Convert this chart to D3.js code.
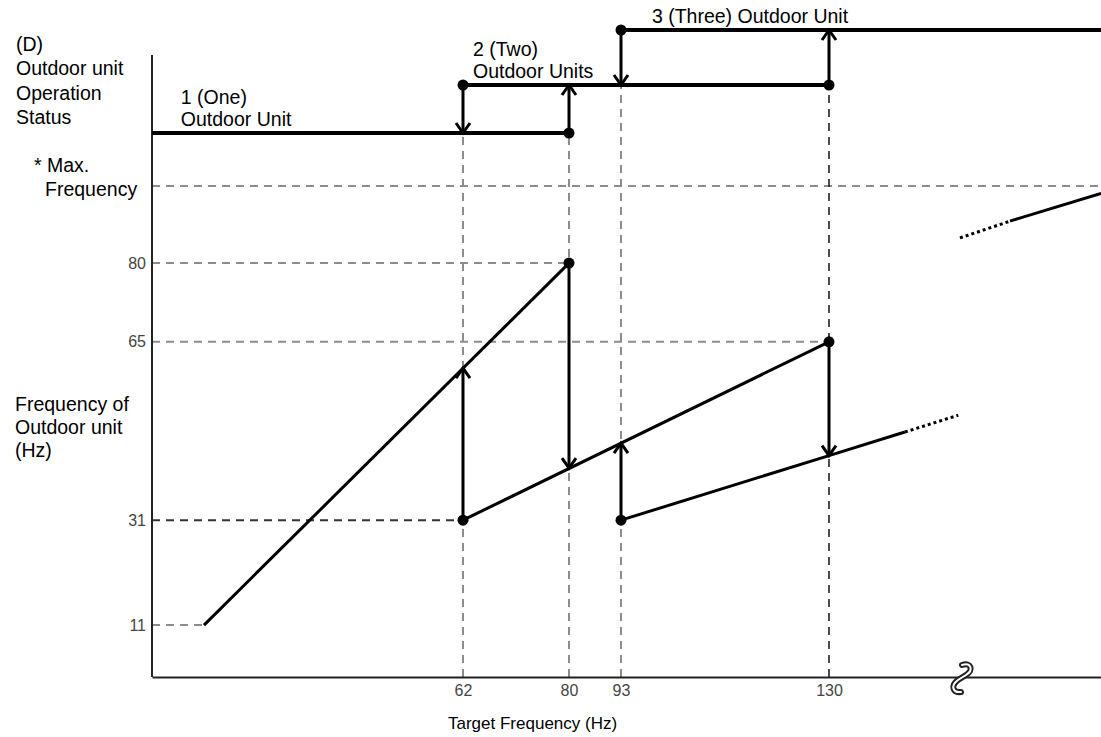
<!DOCTYPE html>
<html>
<head>
<meta charset="utf-8">
<script src="https://cdn.jsdelivr.net/npm/d3@7"></script>
<style>
  body { margin: 0; background: #fff; }
  text { font-family: "Liberation Sans", Arial, sans-serif; }
</style>
</head>
<body>
<svg id="chart"></svg>
<script>
var width = 1101
var height = 737

// target frequency ticks (Hz) and outdoor unit frequency ticks (Hz)
var xTicks = [62, 80, 93, 130]
var yTicks = [80, 65, 31, 11]
var maxFreq = 94.7   // "* Max. Frequency" level, no number printed

// frequency of outdoor unit vs target frequency, one line per unit count
var oneUnit = [[11, 11], [80, 80]]
var twoUnits = [[62, 31], [130, 65]]
var threeUnits = [[93, 31], [130, 43.3], [143.5, 47.8]]
var threeUnitsDotted = [[143.5, 47.8], [153, 51]]
var highDotted = [[153.3, 84.8], [162.2, 88]]
var highSolid = [[162.2, 88], [178.4, 93.3]]

// switching arrows: [target, from freq, to freq]
var freqArrows = [[62, 31, 60], [80, 80, 40.9], [93, 31, 45.7], [130, 65, 43.3]]
var freqDots = [[80, 80], [62, 31], [130, 65], [93, 31]]

// operation status: number of running outdoor units
var statusSteps = [
  {units: 1, from: 0, to: 80},
  {units: 2, from: 62, to: 130},
  {units: 3, from: 93, to: 178.4}
]
var statusArrows = [[62, 2, 1], [80, 1, 2], [93, 3, 2], [130, 2, 3]]
var statusLabels = [
  {units: 1, x: 6.1, lines: ["1 (One)", "Outdoor Unit"]},
  {units: 2, x: 63.7, lines: ["2 (Two)", "Outdoor Units"]},
  {units: 3, x: 98.5, lines: ["3 (Three) Outdoor Unit"]}
]

// dashed guides
var hGuides = [[maxFreq, 178.4, "#8c8c8c"], [80, 80, "#8c8c8c"], [65, 130, "#8c8c8c"], [31, 62, "#333"], [11, 11, "#8c8c8c"]]
var vGuides = [[62, 1, "#8c8c8c"], [80, 1, "#8c8c8c"], [93, 2, "#8c8c8c"], [130, 2, "#222"]]

var x = d3.scaleLinear()
  .domain([0, 11, 62, 80, 93, 130, 178.4])
  .range([152, 204, 463, 569, 621, 829, 1101])

var y = d3.scaleLinear()
  .domain([1.1, maxFreq])
  .range([677, 186])

var s = d3.scaleLinear()
  .domain([1, 2, 3])
  .range([133, 85, 30])

const svg = d3.select("#chart")
  .attr("width", width)
  .attr("height", height)

var line = d3.line().x(d => x(d[0])).y(d => y(d[1]))

// guides
svg.append("g").selectAll("line")
  .data(hGuides)
  .join("line")
    .attr("x1", x(0)).attr("x2", d => x(d[1]))
    .attr("y1", d => y(d[0])).attr("y2", d => y(d[0]))
    .attr("stroke", d => d[2])
    .attr("stroke-width", 2)
    .attr("stroke-dasharray", "8,6")

svg.append("g").selectAll("line")
  .data(vGuides)
  .join("line")
    .attr("x1", d => x(d[0])).attr("x2", d => x(d[0]))
    .attr("y1", y(1.1)).attr("y2", d => s(d[1]))
    .attr("stroke", d => d[2])
    .attr("stroke-width", d => d[2] == "#222" ? 1.6 : 2)
    .attr("stroke-dasharray", "8,6")

// axes
svg.append("line")
  .attr("x1", x(0)).attr("x2", x(0))
  .attr("y1", 55).attr("y2", y(1.1))
  .attr("stroke", "#222").attr("stroke-width", 2)

var gx = svg.append("g")
  .attr("transform", `translate(0,${y(1.1)})`)
  .call(d3.axisBottom(x).tickValues(xTicks).tickSize(0).tickPadding(8))
gx.select(".domain").attr("stroke", "#222").attr("stroke-width", 2)
gx.selectAll("text").attr("font-size", 16).attr("fill", "#444")
  .attr("font-family", "Liberation Sans, Arial, sans-serif")

var gy = svg.append("g")
  .attr("transform", `translate(${x(0)},0)`)
  .call(d3.axisLeft(y).tickValues(yTicks).tickSize(0).tickPadding(6))
gy.select(".domain").remove()
gy.selectAll("text").attr("font-size", 16).attr("fill", "#444")
  .attr("font-family", "Liberation Sans, Arial, sans-serif")

// axis break mark
var brk = "M962,665 C971,662 974,670 966,675 L958,680 C950,686 953,693 961,692"
svg.append("path").attr("d", brk).attr("fill", "none")
  .attr("stroke", "#222").attr("stroke-width", 6).attr("stroke-linecap", "round")
svg.append("path").attr("d", brk).attr("fill", "none")
  .attr("stroke", "#fff").attr("stroke-width", 2).attr("stroke-linecap", "round")

// frequency lines
var gLines = svg.append("g").attr("fill", "none").attr("stroke", "#000")
  .attr("stroke-width", 3)
gLines.selectAll("path.solid")
  .data([oneUnit, twoUnits, threeUnits, highSolid])
  .join("path").attr("class", "solid").attr("d", line)
gLines.selectAll("path.dot")
  .data([threeUnitsDotted, highDotted])
  .join("path").attr("class", "dot").attr("d", line)
  .attr("stroke-dasharray", "3,3")

function arrow(g, xp, y1, y2) {
  var dir = y2 < y1 ? 1 : -1
  g.append("line")
    .attr("x1", xp).attr("x2", xp).attr("y1", y1).attr("y2", y2)
  g.append("path")
    .attr("d", `M${xp - 7},${y2 + dir * 10}L${xp},${y2}L${xp + 7},${y2 + dir * 10}`)
}

var gArrows = svg.append("g").attr("fill", "none").attr("stroke", "#000")
  .attr("stroke-width", 3)
freqArrows.forEach(d => arrow(gArrows, x(d[0]), y(d[1]), y(d[2])))
statusArrows.forEach(d => arrow(gArrows, x(d[0]), s(d[1]), s(d[2])))

// status steps
svg.append("g").selectAll("line")
  .data(statusSteps)
  .join("line")
    .attr("x1", d => x(d.from)).attr("x2", d => x(d.to))
    .attr("y1", d => s(d.units)).attr("y2", d => s(d.units))
    .attr("stroke", "#000").attr("stroke-width", 4)

// dots
svg.append("g").selectAll("circle")
  .data(freqDots)
  .join("circle")
    .attr("cx", d => x(d[0])).attr("cy", d => y(d[1])).attr("r", 5.5)
svg.append("g").selectAll("circle")
  .data(statusArrows)
  .join("circle")
    .attr("cx", d => x(d[0])).attr("cy", d => s(d[1])).attr("r", 5.5)

// texts
var gText = svg.append("g").attr("font-size", 19.5).attr("fill", "#000")

statusLabels.forEach(d => {
  var t = gText.append("text")
    .attr("x", x(d.x))
    .attr("y", s(d.units) - 7 - (d.lines.length - 1) * 22)
  d.lines.forEach((l, i) => {
    t.append("tspan").attr("x", x(d.x)).attr("dy", i ? 22 : 0).text(l)
  })
})

function block(lines, x0, y0, dy) {
  var t = gText.append("text").attr("x", x0).attr("y", y0)
  lines.forEach((l, i) => t.append("tspan").attr("x", x0).attr("dy", i ? dy : 0).text(l))
}

block(["(D)", "Outdoor unit", "Operation", "Status"], 16, 51, 24.3)
gText.append("text").attr("x", 34).attr("y", 172).text("* Max.")
gText.append("text").attr("x", 45).attr("y", 196).text("Frequency")
block(["Frequency of", "Outdoor unit", "(Hz)"], 15, 411, 23)

gText.append("text")
  .attr("x", x(62) - 15).attr("y", 729)
  .attr("font-size", 17)
  .text("Target Frequency (Hz)")
</script>
</body>
</html>
